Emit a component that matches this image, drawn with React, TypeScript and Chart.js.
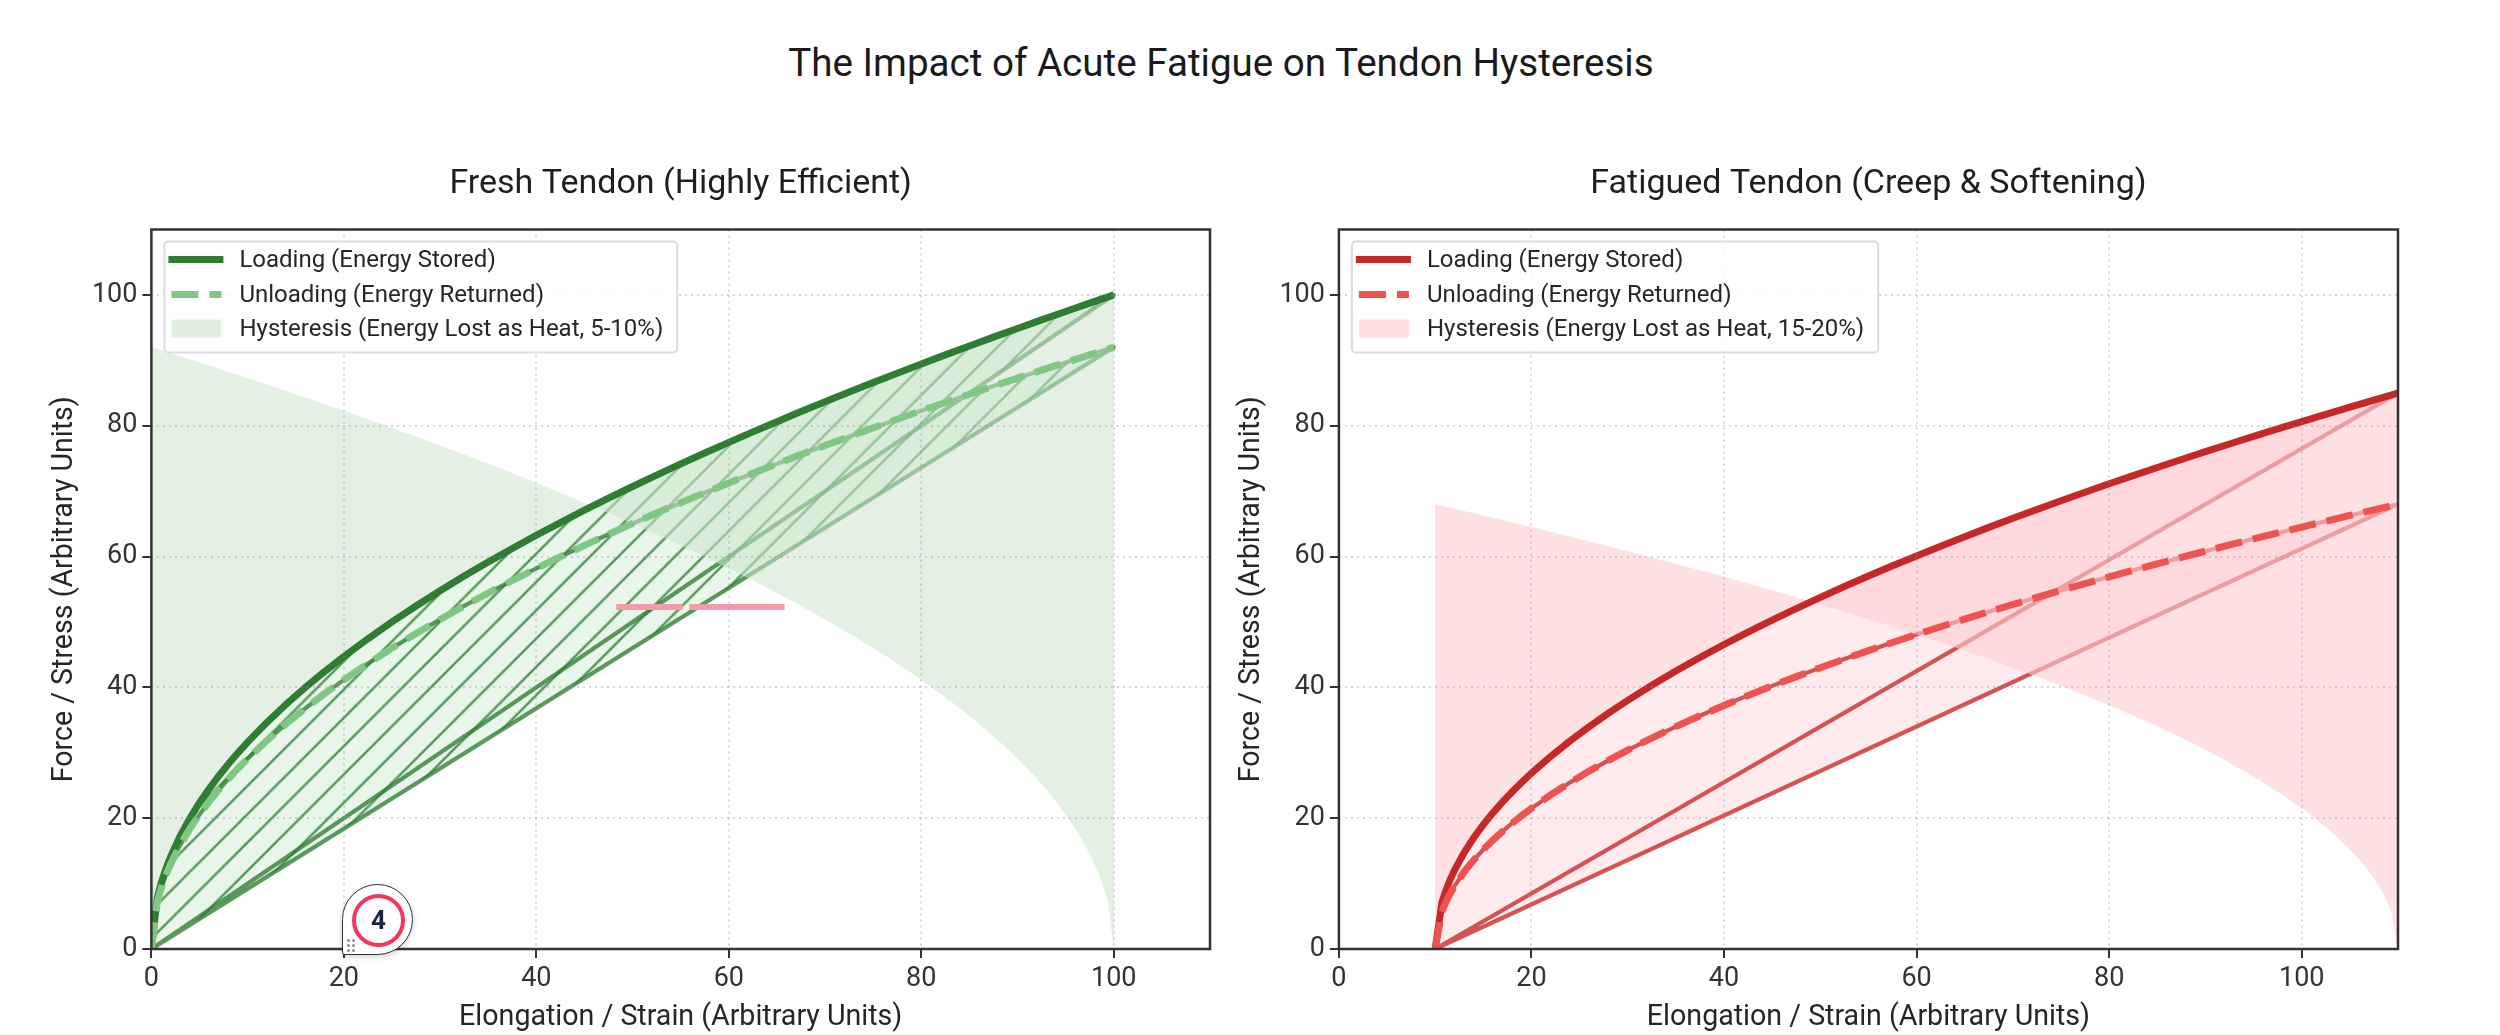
import { useEffect, useRef } from 'react';
import Chart from 'chart.js/auto';

const FONT = 'Roboto, sans-serif';

// shared sample positions along the elongation axis, fresh tendon
const freshX = [0, 0.6, 1, 1.5, 2, 3, 4, 5, 6, 7, 8, 9, 10, 12, 14, 16, 18, 20, 22.5, 25, 27.5, 30, 32.5, 35, 37.5, 40, 42.5, 45, 47.5, 50, 52.5, 55, 57.5, 60, 62.5, 65, 67.5, 70, 72.5, 75, 77.5, 80, 82.5, 85, 87.5, 90, 92.5, 95, 97.5, 100];
const freshLoading = [0, 7.75, 10, 12.25, 14.14, 17.32, 20, 22.36, 24.49, 26.46, 28.28, 30, 31.62, 34.64, 37.42, 40, 42.43, 44.72, 47.43, 50, 52.44, 54.77, 57.01, 59.16, 61.24, 63.25, 65.19, 67.08, 68.92, 70.71, 72.46, 74.16, 75.83, 77.46, 79.06, 80.62, 82.16, 83.67, 85.15, 86.6, 88.03, 89.44, 90.83, 92.2, 93.54, 94.87, 96.18, 97.47, 98.74, 100];
const freshUnloading = [0, 7.13, 9.2, 11.27, 13.01, 15.93, 18.4, 20.57, 22.53, 24.34, 26.02, 27.6, 29.09, 31.87, 34.43, 36.8, 39.04, 41.14, 43.64, 46, 48.24, 50.39, 52.45, 54.43, 56.34, 58.19, 59.97, 61.71, 63.41, 65.05, 66.66, 68.23, 69.76, 71.26, 72.74, 74.17, 75.59, 76.98, 78.34, 79.67, 80.99, 82.28, 83.56, 84.82, 86.06, 87.28, 88.49, 89.67, 90.84, 92];

const fatiguedX = [10, 10.7, 11, 11.5, 12, 13, 14, 15, 16, 17, 18, 19, 20, 22, 24, 26, 28, 30, 32.5, 35, 37.5, 40, 42.5, 45, 47.5, 50, 52.5, 55, 57.5, 60, 62.5, 65, 67.5, 70, 72.5, 75, 77.5, 80, 82.5, 85, 87.5, 90, 92.5, 95, 97.5, 100, 102.5, 105, 107.5, 110];
const fatiguedLoading = [0, 7.11, 8.5, 10.41, 12.02, 14.72, 17, 19.01, 20.82, 22.49, 24.04, 25.5, 26.88, 29.44, 31.81, 34, 36.07, 38.01, 40.32, 42.5, 44.57, 46.55, 48.46, 50.29, 52.05, 53.76, 55.41, 57.02, 58.58, 60.1, 61.59, 63.04, 64.46, 65.84, 67.2, 68.53, 69.84, 71.12, 72.38, 73.61, 74.83, 76.03, 77.21, 78.37, 79.51, 80.64, 81.75, 82.85, 83.93, 85];
const fatiguedUnloading = [0, 5.69, 6.8, 8.33, 9.62, 11.78, 13.6, 15.2, 16.65, 17.99, 19.23, 20.4, 21.5, 23.56, 25.45, 27.2, 28.85, 30.41, 32.25, 34, 35.66, 37.24, 38.77, 40.23, 41.64, 43.01, 44.33, 45.61, 46.86, 48.08, 49.27, 50.43, 51.57, 52.67, 53.76, 54.83, 55.87, 56.9, 57.9, 58.89, 59.86, 60.82, 61.77, 62.7, 63.61, 64.51, 65.4, 66.28, 67.14, 68];

// stray pink stroke sitting on the left panel
const strayX = [48.3, 55.2, 55.2, 55.9, 65.8];
const strayY = [52.3, 52.3, null, 52.3, 52.3];

const axisTicks = [0, 20, 40, 60, 80, 100];
const gripDots = [0, 1, 2, 3, 4, 5];

const freshLegend = ['Loading (Energy Stored)', 'Unloading (Energy Returned)', 'Hysteresis (Energy Lost as Heat, 5-10%)'];
const fatiguedLegend = ['Loading (Energy Stored)', 'Unloading (Energy Returned)', 'Hysteresis (Energy Lost as Heat, 15-20%)'];

const zip = (xs: number[], ys: (number | null)[]) => xs.map((x, i) => ({ x, y: ys[i] }));

// diagonal hatch, matches a '/' hatch at 45deg in page pixels
function makeHatch(base: string, stroke: string) {
  const size = 28;
  const tile = document.createElement('canvas');
  tile.width = size;
  tile.height = size;
  const c = tile.getContext('2d')!;
  c.fillStyle = base;
  c.fillRect(0, 0, size, size);
  c.strokeStyle = stroke;
  c.lineWidth = 2.4;
  c.beginPath();
  c.moveTo(-3, size + 3);
  c.lineTo(size + 3, -3);
  c.moveTo(-3, 3);
  c.lineTo(3, -3);
  c.moveTo(size - 3, size + 3);
  c.lineTo(size + 3, size - 3);
  c.stroke();
  const pattern = c.createPattern(tile, 'repeat')!;
  pattern.setTransform(new DOMMatrix().translate(14.5, 0).scale(28.3 / 28));
  return pattern;
}

type PanelProps = {
  left: number;
  width: number;
  padLeft: number;
  padRight: number;
  title: string;
  xs: number[];
  loading: number[];
  unloading: number[];
  legend: string[];
  loadColor: string;
  unloadColor: string;
  edgeColor: string;
  lensColor: string;
  bowColor: string;
  patchColor: string;
  hatched?: boolean;
  stray?: boolean;
};

function TendonPanel(p: PanelProps) {
  const chartRef = useRef<HTMLCanvasElement>(null);

  useEffect(() => {
    if (!chartRef.current) return;
    const ctx = chartRef.current.getContext('2d');
    if (!ctx) return;

    const first = p.xs[0];
    const last = p.xs[p.xs.length - 1];
    const load = zip(p.xs, p.loading);
    const unload = zip(p.xs, p.unloading);
    // loading curve, jump back to start, unloading curve, closed by the path
    const lens = [...load, ...unload, load[0]];
    // loading against the unloading values taken in reverse order
    const mirrored = p.xs.map((x, i) => ({ x: last - (x - first), y: p.unloading[i] }));
    const bow = [...load, ...mirrored];

    const datasets: any[] = [
      {
        data: lens,
        order: 5,
        borderColor: p.edgeColor,
        borderWidth: 4.2,
        borderJoinStyle: 'round',
        backgroundColor: p.hatched ? makeHatch(p.lensColor, p.edgeColor) : p.lensColor,
        fill: 'shape'
      },
      {
        data: bow,
        order: 4,
        borderWidth: 0,
        backgroundColor: p.bowColor,
        fill: 'shape'
      },
      { data: load, order: 3, borderColor: p.loadColor, borderWidth: 7, fill: false },
      { data: unload, order: 2, borderColor: p.unloadColor, borderWidth: 7, borderDash: [27, 11], fill: false }
    ];
    if (p.stray) {
      datasets.push({ data: zip(strayX, strayY), order: 1, borderColor: '#f59aa9', borderWidth: 6, fill: false, spanGaps: false });
    }
    datasets.forEach(d => {
      d.showLine = true;
      d.pointRadius = 0;
      d.clip = 0;
      d.tension = 0;
    });

    const scaleCommon = {
      type: 'linear',
      min: 0,
      max: 110,
      border: { display: false, dash: [2, 4] },
      grid: {
        z: 1,
        color: 'rgba(140, 140, 140, 0.35)',
        lineWidth: 2,
        tickColor: '#333333',
        tickWidth: 2,
        tickLength: 9,
        tickBorderDash: []
      }
    };

    const chart = new Chart(ctx, {
      type: 'scatter',
      data: { datasets },
      options: {
        responsive: false,
        animation: false,
        layout: { padding: { left: p.padLeft, right: p.padRight, top: 0, bottom: 1 } },
        plugins: {
          legend: { display: false },
          tooltip: { enabled: false },
          title: {
            display: true,
            text: p.title,
            fullSize: false,
            color: '#1f1f1f',
            font: { family: FONT, size: 34, weight: 'normal', lineHeight: 1.2 },
            padding: { top: 164, bottom: 24.7 }
          }
        },
        scales: {
          x: {
            ...scaleCommon,
            afterFit: (s: any) => { s.height = 85; },
            afterBuildTicks: (s: any) => { s.ticks = axisTicks.map(value => ({ value })); },
            ticks: { color: '#333333', padding: 5, maxRotation: 0, font: { family: FONT, size: 27 } },
            title: { display: true, text: 'Elongation / Strain (Arbitrary Units)', color: '#262626', padding: 0, font: { family: FONT, size: 28.6, lineHeight: 1.1 } }
          },
          y: {
            ...scaleCommon,
            afterFit: (s: any) => { s.width = 102.6; },
            afterBuildTicks: (s: any) => { s.ticks = axisTicks.map(value => ({ value })); },
            ticks: { color: '#333333', padding: 5, font: { family: FONT, size: 27 } },
            title: { display: true, text: 'Force / Stress (Arbitrary Units)', color: '#262626', padding: 0, font: { family: FONT, size: 28.6, lineHeight: 1.1 } }
          }
        }
      } as any,
      plugins: [
        {
          id: 'frameAndLegend',
          afterDraw(c: Chart) {
            const g = c.ctx;
            const a = c.chartArea;
            g.save();
            // axes box
            g.strokeStyle = '#333333';
            g.lineWidth = 2.5;
            g.strokeRect(a.left, a.top, a.right - a.left, a.bottom - a.top);

            // legend box inside the axes
            const x0 = a.left + 13;
            const y0 = a.top + 12;
            g.font = `24px ${FONT}`;
            const boxW = 75 + g.measureText(p.legend[2]).width + 14;
            g.beginPath();
            g.roundRect(x0, y0, boxW, 111, 4);
            g.fillStyle = 'rgba(255, 255, 255, 0.82)';
            g.fill();
            g.strokeStyle = '#dcdcdc';
            g.lineWidth = 2;
            g.stroke();

            const rows = [y0 + 18, y0 + 53, y0 + 87];
            g.lineWidth = 7;
            g.strokeStyle = p.loadColor;
            g.beginPath();
            g.moveTo(x0 + 4, rows[0]);
            g.lineTo(x0 + 59, rows[0]);
            g.stroke();
            g.strokeStyle = p.unloadColor;
            g.setLineDash([27, 11]);
            g.beginPath();
            g.moveTo(x0 + 7, rows[1]);
            g.lineTo(x0 + 57, rows[1]);
            g.stroke();
            g.setLineDash([]);
            g.fillStyle = p.patchColor;
            g.fillRect(x0 + 7, rows[2] - 9, 50, 18);

            g.fillStyle = '#262626';
            g.textAlign = 'left';
            g.textBaseline = 'middle';
            p.legend.forEach((label, i) => g.fillText(label, x0 + 75, rows[i] + 1));
            g.restore();
          }
        }
      ]
    });

    return () => {
      chart.destroy();
    };
  }, []);

  return (
    <canvas
      ref={chartRef}
      width={p.width}
      height={1035}
      style={{ position: 'absolute', left: p.left, top: 0, width: p.width, height: 1035 }}
    />
  );
}

function StepBadge() {
  return (
    <div
      style={{
        position: 'absolute',
        left: 342,
        top: 884,
        width: 69,
        height: 69,
        boxSizing: 'content-box',
        background: '#ffffff',
        border: '1.5px solid #333333',
        borderRadius: '50% 50% 50% 3px',
        boxShadow: '0 2px 6px rgba(0, 0, 0, 0.18)'
      }}
    >
      <div
        style={{
          position: 'absolute',
          left: 9,
          top: 9,
          width: 45,
          height: 45,
          border: '4.5px solid #f0385c',
          borderRadius: '50%',
          color: '#1a2340',
          font: `bold 26px/45px ${FONT}`,
          textAlign: 'center'
        }}
      >
        4
      </div>
      <div style={{ position: 'absolute', left: 4, top: 54, width: 10, display: 'flex', flexWrap: 'wrap', gap: 2 }}>
        {gripDots.map(d => (
          <span key={d} style={{ width: 3, height: 3, borderRadius: '50%', background: '#8a8f99' }} />
        ))}
      </div>
    </div>
  );
}

export default function App() {
  return (
    <div style={{ position: 'absolute', left: 0, top: 0, width: 2500, height: 1035, background: '#ffffff', overflow: 'hidden' }}>
      <div
        style={{
          position: 'absolute',
          left: 0,
          top: 40,
          width: 2442,
          textAlign: 'center',
          font: `38.6px/46px ${FONT}`,
          color: '#1a1a1a'
        }}
      >
        The Impact of Acute Fatigue on Tendon Hysteresis
      </div>
      <TendonPanel
        left={0}
        width={1228}
        padLeft={48.8}
        padRight={18}
        title="Fresh Tendon (Highly Efficient)"
        xs={freshX}
        loading={freshLoading}
        unloading={freshUnloading}
        legend={freshLegend}
        loadColor="#2e7d32"
        unloadColor="#81c784"
        edgeColor="rgba(46, 125, 50, 0.78)"
        lensColor="#e8f5e9"
        bowColor="rgba(205, 228, 205, 0.56)"
        patchColor="#e1efe1"
        hatched
        stray
      />
      <TendonPanel
        left={1228}
        width={1272}
        padLeft={8.3}
        padRight={102}
        title="Fatigued Tendon (Creep & Softening)"
        xs={fatiguedX}
        loading={fatiguedLoading}
        unloading={fatiguedUnloading}
        legend={fatiguedLegend}
        loadColor="#c62828"
        unloadColor="#ef5350"
        edgeColor="rgba(198, 40, 40, 0.78)"
        lensColor="#ffebee"
        bowColor="rgba(255, 205, 210, 0.6)"
        patchColor="#ffe0e3"
      />
      <StepBadge />
    </div>
  );
}
